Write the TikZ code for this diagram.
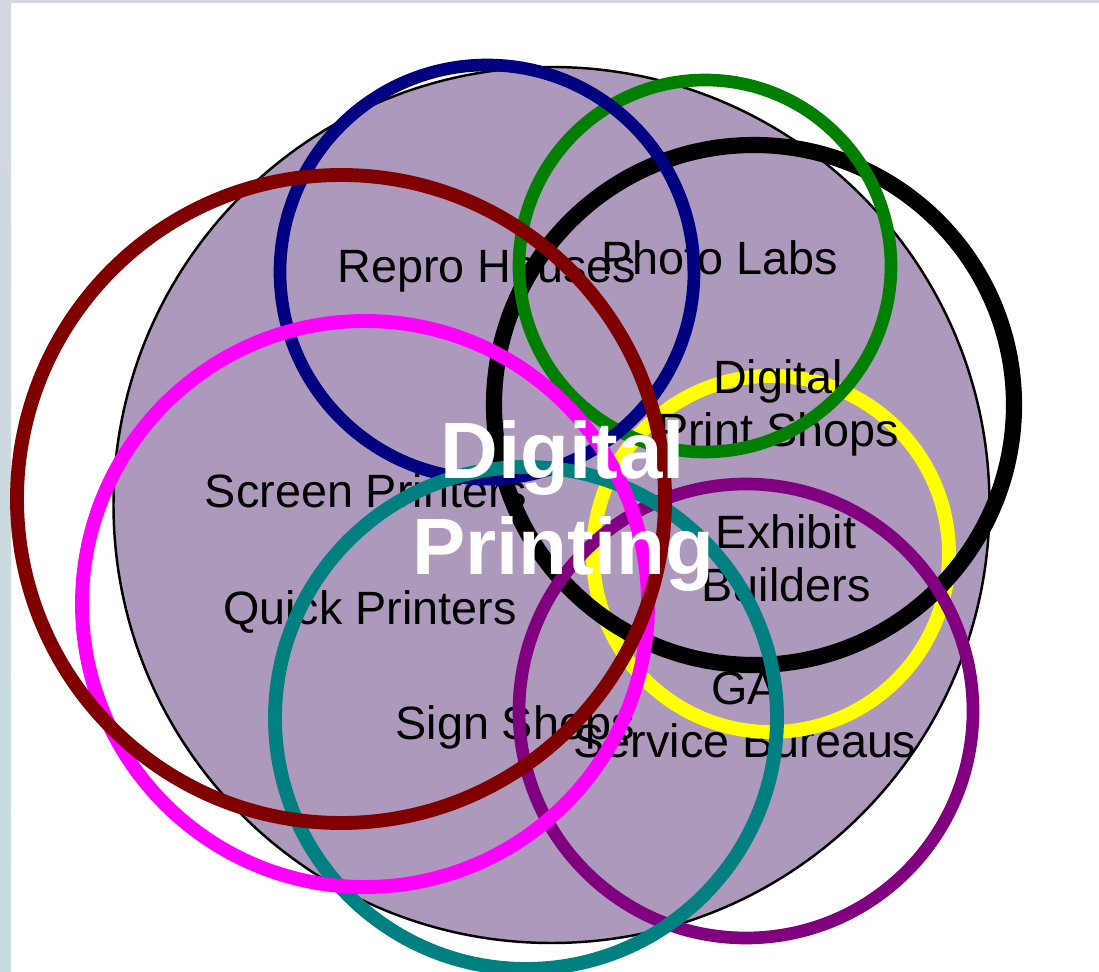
\documentclass[tikz,border=0pt]{standalone}
\usepackage{fontspec}
\setmainfont{Liberation Sans}
\definecolor{bigfill}{RGB}{173,153,187}
\definecolor{navyc}{RGB}{0,0,128}
\definecolor{greenc}{RGB}{0,128,0}
\definecolor{maroonc}{RGB}{128,0,0}
\definecolor{magentac}{RGB}{255,0,255}
\definecolor{tealc}{RGB}{0,128,128}
\definecolor{yellowc}{RGB}{255,255,0}
\definecolor{purplec}{RGB}{128,0,128}
\definecolor{edgec}{RGB}{211,215,224}
\definecolor{edgeb}{RGB}{196,220,220}
\begin{document}
\begin{tikzpicture}[x=0.02cm,y=-0.02cm,
  ring/.style={line width=7.9pt},
  thinring/.style={line width=7.2pt},
  lbl/.style={font=\fontsize{26.6}{30.2}\selectfont, align=center, inner sep=0pt},
  titlelbl/.style={font=\bfseries\fontsize{45.5}{55}\selectfont, text=white, align=center, inner sep=0pt}]
\useasboundingbox (0,0) rectangle (1099,972);
\fill[white] (0,0) rectangle (1099,972);
\shade[top color=edgec, bottom color=edgeb] (0,0) rectangle (11,972);
\fill[edgec] (0,0) rectangle (1099,3);
% big field
\filldraw[fill=bigfill, draw=black, line width=1.4pt] (551.5,505) circle[radius=438];
% labels under the rings
\node[lbl, anchor=base] (repro) at (487,283) {Repro Houses};
\node[lbl, anchor=base] (photo) at (720,275) {Photo Labs};
\node[lbl, anchor=base] (screen) at (366,508) {Screen Printers};
\node[lbl, anchor=base] (quick) at (370,625) {Quick Printers};
\node[lbl, anchor=base] (sign) at (515,740) {Sign Shops};
\node[lbl] (exhibit) at (786,558) {Exhibit\\Builders};
\node[lbl] (ga) at (745,715) {GA\\Service Bureaus};
% rings
\draw[ring, yellowc] (771,554) circle[radius=178];
\node[lbl] (dps) at (778,408) {Digital\\Print Shops};
\draw[ring, black, line width=9.2pt] (754,405) circle[radius=260];
\draw[thinring, greenc] (705,266) circle[radius=186];
\draw[thinring, navyc] (487,272) circle[radius=207];
\draw[thinring, purplec] (746,711) circle[radius=227];
\draw[ring, tealc] (526,718) circle[radius=251];
\draw[ring, magentac] (365,604) circle[radius=283];
\draw[ring, maroonc] (341,499) circle[radius=324];
% title
\node[titlelbl] (title) at (563,506) {Digital\\Printing};
\end{tikzpicture}
\end{document}
